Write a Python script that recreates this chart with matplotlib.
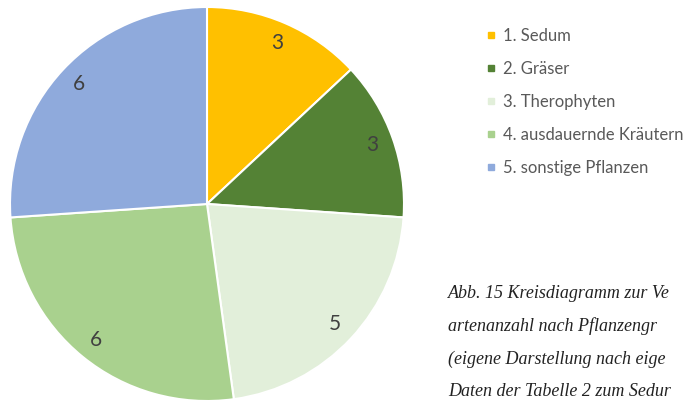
import matplotlib.pyplot as plt
from matplotlib.lines import Line2D

# Artenanzahl je Pflanzengruppe
groups = ['1. Sedum', '2. Gräser', '3. Therophyten', '4. ausdauernde Kräutern', '5. sonstige Pflanzen']
counts = [3, 3, 5, 6, 6]
colors = ['#FFC000', '#548235', '#E2EFDA', '#A9D18E', '#8FAADC']

caption = ['Abb. 15 Kreisdiagramm zur Ve',
           'artenanzahl nach Pflanzengr',
           '(eigene Darstellung nach eige',
           'Daten der Tabelle 2 zum Sedur']

W, H = 686, 405
fig = plt.figure(figsize=(W / 100, H / 100), dpi=100)

cx, cy, r = 207, 204, 197
ax = fig.add_axes([(cx - r) / W, (H - cy - r) / H, 2 * r / W, 2 * r / H])
wedges, texts, autotexts = ax.pie(
    counts, colors=colors, startangle=90, counterclock=False,
    autopct=lambda p: '{:.0f}'.format(p * sum(counts) / 100),
    pctdistance=0.89,
    wedgeprops=dict(edgecolor='white', linewidth=1.5),
    textprops=dict(color='#404040', fontsize=15, family='Lato'))
ax.set_xlim(-1, 1)
ax.set_ylim(-1, 1)
ax.axis('off')

handles = [Line2D([], [], marker='s', linestyle='none', markersize=5,
                  markerfacecolor=c, markeredgecolor=c) for c in colors]
fig.legend(handles, groups, loc='upper left', bbox_to_anchor=(486 / W, 1 - 28 / H),
           frameon=False, borderpad=0, borderaxespad=0, handlelength=0.6,
           handletextpad=0.4, labelspacing=1.02,
           prop=dict(family='Lato', size=12), labelcolor='#595959')

for i, line in enumerate(caption):
    fig.text(448 / W, 1 - (293 + 33 * i) / H, line, ha='left', va='center',
             fontsize=13, style='italic', family='Liberation Serif', color='#222222')

plt.savefig('out.png', dpi=100)
